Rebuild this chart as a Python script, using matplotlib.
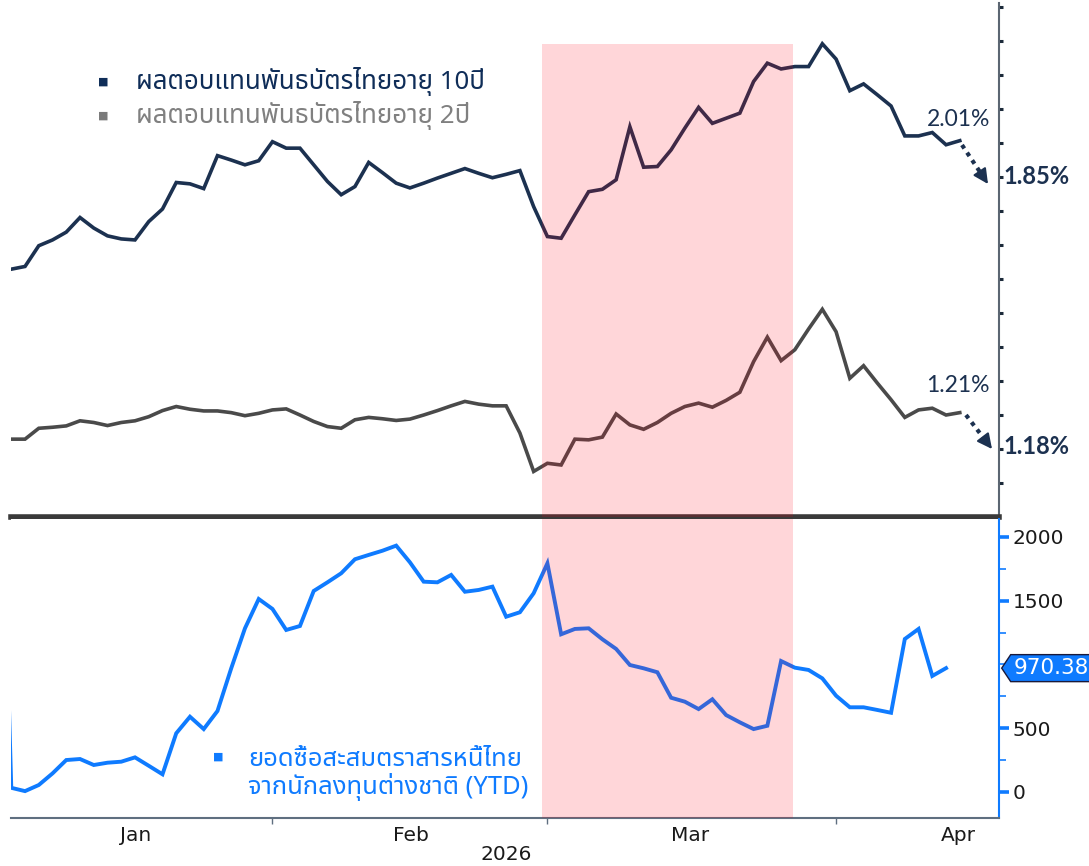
import matplotlib as mpl
mpl.use('Agg')
import matplotlib.pyplot as plt
import matplotlib.patches as mpatches
import numpy as np

# Thai 10Y / 2Y government bond yields (%) and foreign YTD net buying of Thai bonds
# one value per trading day, Jan..mid-Apr 2026
yield_10y = [1.630, 1.638, 1.699, 1.716, 1.739, 1.782, 1.751, 1.728, 1.719, 1.716,
             1.770, 1.807, 1.885, 1.881, 1.867, 1.964, 1.951, 1.937, 1.949, 2.005,
             1.986, 1.986, 1.937, 1.888, 1.849, 1.873, 1.944, 1.914, 1.883, 1.869,
             1.883, 1.898, 1.912, 1.926, 1.912, 1.899, 1.909, 1.920, 1.814, 1.726,
             1.721, 1.790, 1.858, 1.865, 1.893, 2.049, 1.930, 1.932, 1.981, 2.045,
             2.106, 2.059, 2.074, 2.089, 2.182, 2.236, 2.219, 2.226, 2.226, 2.293,
             2.248, 2.155, 2.175, 2.143, 2.110, 2.022, 2.022, 2.032, 1.996, 2.008]

yield_2y = [1.130, 1.130, 1.162, 1.165, 1.169, 1.184, 1.179, 1.170, 1.179, 1.184,
            1.196, 1.214, 1.226, 1.218, 1.213, 1.213, 1.208, 1.199, 1.206, 1.216,
            1.219, 1.201, 1.182, 1.167, 1.162, 1.187, 1.194, 1.190, 1.185, 1.189,
            1.201, 1.214, 1.228, 1.241, 1.233, 1.228, 1.228, 1.148, 1.035, 1.059,
            1.054, 1.130, 1.128, 1.136, 1.204, 1.172, 1.159, 1.179, 1.206, 1.226,
            1.236, 1.224, 1.244, 1.268, 1.358, 1.430, 1.361, 1.393, 1.454, 1.512,
            1.446, 1.309, 1.346, 1.295, 1.246, 1.194, 1.216, 1.221, 1.201, 1.208]

# last point of previous year sits just left of the axis
foreign_prev = 3800
foreign_ytd = [31, 5, 53, 144, 249, 257, 210, 228, 236, 270,
               204, 137, 459, 589, 492, 634, 969, 1283, 1513, 1435,
               1270, 1301, 1576, 1644, 1715, 1825, 1859, 1892, 1932, 1801,
               1649, 1644, 1702, 1570, 1584, 1610, 1374, 1409, 1558, 1793,
               1236, 1278, 1283, 1197, 1121, 995, 969, 938, 738, 707,
               649, 726, 602, 545, 492, 518, 1026, 974, 956, 890,
               754, 663, 663, 642, 620, 1199, 1278, 909, 970.38]

month_labels = ['Jan', 'Feb', 'Mar', 'Apr']
month_label_pos = [9.06, 29.05, 49.4, 68.9]
month_starts = [19, 39, 60]
shade_start, shade_end = 38.6, 56.85

legend_10y = 'ผลตอบแทนพันธบัตรไทยอายุ 10ปี'
legend_2y = 'ผลตอบแทนพันธบัตรไทยอายุ 2ปี'
legend_flow = 'ยอดซื้อสะสมตราสารหนี้ไทย\nจากนักลงทุนต่างชาติ (YTD)'

NAVY = '#1c3150'
LEG_NAVY = '#0f2d58'
GREY = '#4a4a4a'
BLUE = '#0f7bff'
THAI = ['Noto Sans Thai', 'Noto Sans', 'DejaVu Sans']
LATO = ['Lato', 'DejaVu Sans']

W, H = 1089, 866


def fpx(x, y):
    # image pixel (from top-left) -> figure fraction
    return x / W, 1 - y / H


fig = plt.figure(figsize=(W / 100, H / 100), dpi=100)
ax1 = fig.add_axes([11 / W, 1 - 517 / H, 987.7 / W, 514 / H])
ax2 = fig.add_axes([11 / W, 1 - 818 / H, 987.7 / W, 299 / H], sharex=ax1)

x = np.arange(len(yield_10y))
xb = np.arange(-1, len(foreign_ytd))

# ---- top panel: yields ----
ax1.plot(x, yield_10y, color=NAVY, lw=2.6, solid_joinstyle='miter', zorder=2)
ax1.plot(x, yield_2y, color=GREY, lw=2.6, solid_joinstyle='miter', zorder=2)
ax1.axvspan(shade_start, shade_end, ymax=0.92, color=(1.0, 0.0, 0.08), alpha=0.16,
            lw=0, zorder=3)
ax1.set_ylim(0.901, 2.413)
ax1.set_xlim(-0.02, 71.83)
ax1.yaxis.tick_right()
ax1.set_yticks(np.arange(1.0, 2.41, 0.1))
ax1.set_yticklabels([])
ax1.tick_params(axis='y', which='major', direction='out', length=3, width=2.2,
                color='#1c2a3a')
ax1.tick_params(axis='x', which='both', bottom=False, labelbottom=False)
for s in ['left', 'top']:
    ax1.spines[s].set_visible(False)
ax1.spines['right'].set_color('#5b6672')
ax1.spines['right'].set_linewidth(1.5)
ax1.spines['bottom'].set_color('#3a3a3a')
ax1.spines['bottom'].set_linewidth(4)

# ---- bottom panel: foreign flows ----
ax2.plot(xb, [foreign_prev] + foreign_ytd, color=BLUE, lw=2.8,
         solid_joinstyle='miter', zorder=2)
ax2.axvspan(shade_start, shade_end, color=(1.0, 0.0, 0.08), alpha=0.16, lw=0,
            zorder=3)
ax2.set_ylim(-206, 2141)
ax2.yaxis.tick_right()
ax2.set_yticks([0, 500, 1500, 2000])
ax2.set_yticks([250, 750, 1000, 1250, 1750], minor=True)
ax2.tick_params(axis='y', which='major', direction='out', length=7, width=2.6,
                color=BLUE, labelsize=14.5, labelcolor='#1a1a1a', pad=3)
ax2.tick_params(axis='y', which='minor', direction='out', length=5, width=1.2,
                color=BLUE)
ax2.set_xticks(month_starts)
ax2.set_xticklabels([])
ax2.set_xticks(month_label_pos, minor=True)
ax2.set_xticklabels(month_labels, minor=True)
ax2.tick_params(axis='x', which='major', direction='out', length=4, width=1,
                color='#5f6f80')
ax2.tick_params(axis='x', which='minor', length=0, labelsize=14.5,
                labelcolor='#1a1a1a', pad=6)
for s in ['left', 'top']:
    ax2.spines[s].set_visible(False)
ax2.spines['right'].set_color(BLUE)
ax2.spines['right'].set_linewidth(1.5)
ax2.spines['bottom'].set_color('#5f6f80')
ax2.spines['bottom'].set_linewidth(1.5)

# last value tag on the right axis (pentagon pointing at the axis)
last = foreign_ytd[-1]
ty = ax2.transData.transform((0, last))[1]
tx = ax2.transAxes.transform((1, 0))[0] + 3
tag = mpatches.Polygon([(tx, ty), (tx + 9, ty + 13.5), (W + 5, ty + 13.5),
                        (W + 5, ty - 13.5), (tx + 9, ty - 13.5)],
                       closed=True, transform=None, fc=BLUE, ec='#1a1a3a',
                       lw=1.0, zorder=5)
fig.add_artist(tag)
fig.text((tx + 12) / W, ty / H, f'{last:.2f}', ha='left', va='center',
         fontsize=15.5, color='white', zorder=6)

fig.text(*fpx(506, 855), '2026', ha='center', va='center', fontsize=14.5,
         color='#1a1a1a')

# ---- legends ----
fig.text(*fpx(103, 82), '■', ha='center', va='center', fontsize=8, color=LEG_NAVY)
fig.text(*fpx(136, 82), legend_10y, ha='left', va='center', fontsize=18.6,
         color=LEG_NAVY, family=THAI)
fig.text(*fpx(103, 116), '■', ha='center', va='center', fontsize=8, color='#7a7a7a')
fig.text(*fpx(136, 116), legend_2y, ha='left', va='center', fontsize=18.6,
         color='#808080', family=THAI)
fig.text(*fpx(218, 757), '■', ha='center', va='center', fontsize=8, color=BLUE)
fig.text(*fpx(248, 774), legend_flow, ha='left', va='center', fontsize=18.4,
         color=BLUE, family=THAI, linespacing=1.05)

# ---- yield annotations ----
fig.text(*fpx(990, 120), '2.01%', ha='right', va='center', fontsize=16.5,
         color=NAVY, family=LATO)
fig.text(*fpx(990, 385), '1.21%', ha='right', va='center', fontsize=16.5,
         color=NAVY, family=LATO)
fig.text(*fpx(1003, 176), '1.85%', ha='left', va='center', fontsize=17,
         color=NAVY, fontweight='bold', family=LATO)
fig.text(*fpx(1003, 447), '1.18%', ha='left', va='center', fontsize=17,
         color=NAVY, fontweight='bold', family=LATO)

for (x0, y0), (x1, y1) in [((962, 145), (988, 184)), ((966, 415), (992, 449))]:
    p0 = (x0, H - y0)
    p1 = (x1, H - y1)
    pm = (x0 + 0.7 * (x1 - x0), H - (y0 + 0.7 * (y1 - y0)))
    fig.add_artist(plt.Line2D([p0[0], pm[0]], [p0[1], pm[1]], color=NAVY, lw=3,
                              ls=(0, (1, 1.2)), transform=None))
    ax1.annotate('', xy=p1, xycoords='figure pixels', xytext=pm,
                 textcoords='figure pixels', annotation_clip=False,
                 arrowprops=dict(arrowstyle='-|>,head_length=0.9,head_width=0.45',
                                 color=NAVY, lw=1.5, shrinkA=0, shrinkB=0))

plt.savefig('out.png', dpi=100)
